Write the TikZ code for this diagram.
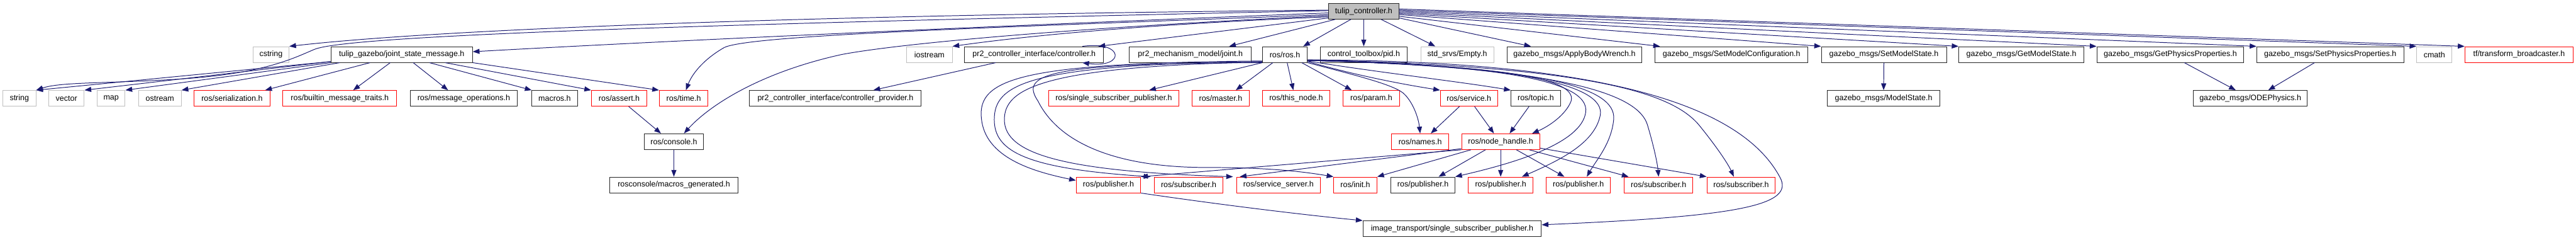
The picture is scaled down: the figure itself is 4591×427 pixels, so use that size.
\documentclass[tikz,border=0pt]{standalone}
\usepackage{fontspec}
\setmainfont{Liberation Sans}
\usepackage{tikz}
\usetikzlibrary{arrows.meta}
\definecolor{edgeblue}{HTML}{191970}
\definecolor{boxgrey}{HTML}{BFBFBF}

\begin{document}
\begin{tikzpicture}[
  x=1pt, y=1pt,
  font=\fontsize{14}{16}\selectfont,
  file/.style={draw, line width=1.1pt, fill=white, minimum height=28pt, inner sep=0pt},
  blkfile/.style={file, draw=black!85},
  redfile/.style={file, draw=red},
  greyfile/.style={file, draw=boxgrey},
  rootfile/.style={file, draw=black!85, fill=boxgrey},
  arrow/.style={-{Triangle[length=12pt,width=9pt]}, line width=1.1pt, draw=edgeblue}
]
  \useasboundingbox (0,0) rectangle (4591,-427);

  \node[rootfile, minimum width=125pt] (root) at (2430.5,-20) {tulip\_controller.h};

  \node[greyfile, minimum width=64pt] (cstring) at (483,-97) {cstring};
  \node[blkfile, minimum width=252pt] (jsm) at (716,-97) {tulip\_gazebo/joint\_state\_message.h};
  \node[greyfile, minimum width=81pt] (iostream) at (1656.5,-97) {iostream};
  \node[blkfile, minimum width=248pt] (ctrl) at (1843,-97) {pr2\_controller\_interface/controller.h};
  \node[blkfile, minimum width=217pt] (joint) at (2121.5,-97) {pr2\_mechanism\_model/joint.h};
  \node[blkfile, minimum width=80pt] (ros) at (2290,-97) {ros/ros.h};
  \node[blkfile, minimum width=155pt] (pid) at (2430.5,-97) {control\_toolbox/pid.h};
  \node[greyfile, minimum width=130pt] (empty) at (2597,-97) {std\_srvs/Empty.h};
  \node[blkfile, minimum width=240pt] (abw) at (2806,-97) {gazebo\_msgs/ApplyBodyWrench.h};
  \node[blkfile, minimum width=272pt] (smc) at (3086,-97) {gazebo\_msgs/SetModelConfiguration.h};
  \node[blkfile, minimum width=223pt] (sms) at (3357.5,-97) {gazebo\_msgs/SetModelState.h};
  \node[blkfile, minimum width=223pt] (gms) at (3602.5,-97) {gazebo\_msgs/GetModelState.h};
  \node[blkfile, minimum width=262pt] (gpp) at (3868,-97) {gazebo\_msgs/GetPhysicsProperties.h};
  \node[blkfile, minimum width=262pt] (spp) at (4153,-97) {gazebo\_msgs/SetPhysicsProperties.h};
  \node[greyfile, minimum width=63pt] (cmath) at (4338.5,-97) {cmath};
  \node[redfile, minimum width=193pt] (tfb) at (4489.5,-97) {tf/transform\_broadcaster.h};

  \node[greyfile, minimum width=59pt] (str) at (34.5,-175) {string};
  \node[greyfile, minimum width=63pt] (vec) at (118.5,-175) {vector};
  \node[greyfile, minimum width=50pt] (map) at (198,-175) {map};
  \node[greyfile, minimum width=76pt] (ostr) at (285,-175) {ostream};
  \node[redfile, minimum width=135pt] (ser) at (413.5,-175) {ros/serialization.h};
  \node[redfile, minimum width=203pt] (bmt) at (605.5,-175) {ros/builtin\_message\_traits.h};
  \node[blkfile, minimum width=191pt] (mop) at (826.5,-175) {ros/message\_operations.h};
  \node[blkfile, minimum width=81pt] (mac) at (988.5,-175) {macros.h};
  \node[redfile, minimum width=99pt] (asrt) at (1103.5,-175) {ros/assert.h};
  \node[redfile, minimum width=87pt] (time) at (1218.5,-175) {ros/time.h};
  \node[blkfile, minimum width=306pt] (prov) at (1489,-175) {pr2\_controller\_interface/controller\_provider.h};
  \node[redfile, minimum width=232pt] (ssp) at (1985,-175) {ros/single\_subscriber\_publisher.h};
  \node[redfile, minimum width=103pt] (master) at (2175.5,-175) {ros/master.h};
  \node[redfile, minimum width=120pt] (thisnode) at (2310,-175) {ros/this\_node.h};
  \node[redfile, minimum width=100pt] (param) at (2444,-175) {ros/param.h};
  \node[redfile, minimum width=102pt] (service) at (2618,-175) {ros/service.h};
  \node[blkfile, minimum width=88pt] (topic) at (2737,-175) {ros/topic.h};
  \node[blkfile, minimum width=200pt] (mstate) at (3357,-175) {gazebo\_msgs/ModelState.h};
  \node[blkfile, minimum width=203pt] (ode) at (4010.5,-175) {gazebo\_msgs/ODEPhysics.h};

  \node[blkfile, minimum width=106pt] (console) at (1201,-252) {ros/console.h};
  \node[redfile, minimum width=102pt] (names) at (2531,-252) {ros/names.h};
  \node[redfile, minimum width=139pt] (nh) at (2674.5,-252) {ros/node\_handle.h};

  \node[blkfile, minimum width=228pt] (macgen) at (1201,-329) {rosconsole/macros\_generated.h};
  \node[redfile, minimum width=115pt] (pub1) at (1975.5,-329) {ros/publisher.h};
  \node[redfile, minimum width=123pt] (sub1) at (2118.5,-329) {ros/subscriber.h};
  \node[redfile, minimum width=149pt] (srvsrv) at (2278.5,-329) {ros/service\_server.h};
  \node[redfile, minimum width=77pt] (init) at (2415.5,-329) {ros/init.h};
  \node[blkfile, minimum width=114pt] (pub2) at (2536,-329) {ros/publisher.h};
  \node[redfile, minimum width=115pt] (pub3) at (2674.5,-329) {ros/publisher.h};
  \node[redfile, minimum width=114pt] (pub4) at (2813,-329) {ros/publisher.h};
  \node[redfile, minimum width=122pt] (sub2) at (2956,-329) {ros/subscriber.h};
  \node[redfile, minimum width=122pt] (sub3) at (3103,-329) {ros/subscriber.h};

  \node[blkfile, minimum width=318pt] (itssp) at (2588,-407) {image\_transport/single\_subscriber\_publisher.h};

  \draw[arrow] ([yshift=2]root.west) .. controls (1500,-26) and (800,-50) .. (cstring.north east);
  \draw[arrow] ([yshift=1]root.west) .. controls (1300,-42) and (620,-62) .. (560,-88)
    .. controls (520,-105) and (470,-130) .. (330,-140) .. controls (200,-149) and (110,-145) .. (str.north east);
  \draw[arrow] ([yshift=-3]root.west) .. controls (1800,-45) and (1200,-72) .. ([yshift=5]jsm.east);
  \draw[arrow] ([yshift=-6]root.west) .. controls (1800,-48) and (1330,-62) .. (1290,-85)
    .. controls (1250,-108) and (1232,-135) .. ([xshift=4]time.north);
  \draw[arrow] ([yshift=-8]root.west) .. controls (1900,-50) and (1600,-78) .. (1500,-97)
    .. controls (1350,-130) and (1262,-190) .. ([xshift=18]console.north);
  \draw[arrow] ([yshift=-10]root.west) .. controls (2000,-45) and (1800,-68) .. (iostream.north east);
  \draw[arrow] ([yshift=-12]root.west) -- ([xshift=-10]ctrl.north east);
  \draw[arrow] ([xshift=12]root.south west) -- ([xshift=-40]joint.north east);
  \draw[arrow] ([xshift=40]root.south west) -- ([xshift=-8]ros.north east);
  \draw[arrow] (root.south) -- (pid.north);
  \draw[arrow] ([xshift=-32]root.south east) -- ([xshift=-39]empty.north);
  \draw[arrow] ([yshift=-12]root.east) -- ([xshift=43]abw.north west);
  \draw[arrow] ([yshift=-9]root.east) -- ([xshift=9]smc.north west);
  \draw[arrow] ([yshift=-6]root.east) -- (sms.north west);
  \draw[arrow] ([yshift=-4]root.east) -- (gms.north west);
  \draw[arrow] ([yshift=-2]root.east) -- (gpp.north west);
  \draw[arrow] (root.east) -- (spp.north west);
  \draw[arrow] ([yshift=2]root.east) -- (cmath.north west);
  \draw[arrow] ([yshift=4]root.east) -- (tfb.north west);

  \draw[arrow] ([yshift=2]jsm.south west) -- (str.north east);
  \draw[arrow] ([yshift=2]jsm.south west) -- (vec.north east);
  \draw[arrow] (jsm.south west) -- (map.north east);
  \draw[arrow] ([xshift=16]jsm.south west) -- (ostr.north east);
  \draw[arrow] ([xshift=70]jsm.south west) -- ([xshift=-9]ser.north east);
  \draw[arrow] ([xshift=106]jsm.south west) -- ([xshift=24]bmt.north);
  \draw[arrow] ([xshift=147]jsm.south west) -- ([xshift=-28]mop.north);
  \draw[arrow] ([xshift=176]jsm.south west) -- (mac.north west);
  \draw[arrow] ([xshift=204]jsm.south west) -- (asrt.north west);
  \draw[arrow] (jsm.south east) -- (time.north west);

  \draw[arrow] ([xshift=17]asrt.south) -- ([xshift=-23]console.north);
  \draw[arrow] (console.south) -- (macgen.north);
  \draw[arrow] ([xshift=56]ctrl.south west) -- ([xshift=-86]prov.north east);
  \draw[arrow] ([xshift=86]ctrl.north) .. controls (2005,-72) and (2005,-122) .. ([xshift=86]ctrl.south);

  \draw[arrow] (ros.south west) -- ([xshift=63]ssp.north);
  \draw[arrow] ([xshift=19]ros.south west) -- ([xshift=27]master.north);
  \draw[arrow] ([xshift=4]ros.south) -- ([xshift=-5]thisnode.north);
  \draw[arrow] ([xshift=30]ros.south) -- ([xshift=-35]param.north);
  \draw[arrow] (ros.south east) .. controls (2420,-135) and (2480,-150) .. (2500,-165)
    .. controls (2518,-180) and (2528,-210) .. (names.north);
  \draw[arrow] ([yshift=2]ros.south east) .. controls (2420,-135) and (2500,-150) .. (service.north west);
  \draw[arrow] ([yshift=3]ros.south east) .. controls (2450,-128) and (2600,-145) .. (topic.north west);
  \draw[arrow] ([yshift=4]ros.south east) .. controls (2600,-115) and (2815,-130) .. (2800,-180)
    .. controls (2790,-205) and (2760,-225) .. ([xshift=-14]nh.north east);
  \draw[arrow] ([yshift=4]ros.south east) .. controls (2650,-115) and (2835,-140) .. (2826,-200)
    .. controls (2818,-255) and (2700,-290) .. (pub2.north east);
  \draw[arrow] ([yshift=4]ros.south east) .. controls (2700,-115) and (2862,-150) .. (2852,-205)
    .. controls (2842,-255) and (2780,-285) .. ([xshift=38]pub3.north);
  \draw[arrow] ([yshift=4]ros.south east) .. controls (2750,-118) and (2880,-155) .. (2876,-212)
    .. controls (2872,-255) and (2845,-285) .. ([xshift=15]pub4.north);
  \draw[arrow] ([yshift=4]ros.south east) .. controls (2800,-120) and (2920,-170) .. (2936,-222)
    .. controls (2948,-262) and (2954,-292) .. (sub2.north);
  \draw[arrow] ([yshift=5]ros.south east) .. controls (2850,-118) and (2985,-168) .. (3030,-225)
    .. controls (3060,-262) and (3080,-292) .. ([xshift=-13]sub3.north);
  \draw[arrow] ([yshift=5]ros.south east) .. controls (2900,-108) and (3110,-200) .. (3172,-315)
    .. controls (3200,-365) and (3100,-385) .. ([yshift=7]itssp.east);
  \draw[arrow] ([yshift=3]ros.south west) .. controls (1820,-112) and (1742,-140) .. (1749,-210)
    .. controls (1755,-280) and (1840,-305) .. ([yshift=8]pub1.west);
  \draw[arrow] ([yshift=2]ros.south west) .. controls (1830,-115) and (1772,-150) .. (1772,-213)
    .. controls (1772,-270) and (1830,-300) .. ([xshift=-6]sub1.north west);
  \draw[arrow] ([yshift=1]ros.south west) .. controls (1850,-118) and (1790,-160) .. (1790,-213)
    .. controls (1790,-275) and (1900,-305) .. ([xshift=-6]srvsrv.north west);
  \draw[arrow] (ros.south west) .. controls (1850,-112) and (1820,-135) .. (1850,-180)
    .. controls (1890,-260) and (2000,-298) .. (2150,-298) .. controls (2260,-298) and (2320,-305) .. (init.north west);

  \draw[arrow] (nh.south west) -- (pub1.north east);
  \draw[arrow] ([yshift=2]nh.south west) -- ([xshift=6]srvsrv.north west);
  \draw[arrow] ([xshift=17]nh.south west) -- (init.north east);
  \draw[arrow] ([xshift=43]nh.south west) -- ([xshift=28]pub2.north);
  \draw[arrow] (nh.south) -- (pub3.north);
  \draw[arrow] ([xshift=28]nh.south) -- ([xshift=-25]pub4.north);
  \draw[arrow] ([xshift=-19]nh.south east) -- ([xshift=8]sub2.north west);
  \draw[arrow] ([yshift=3]nh.south east) -- (sub3.north west);

  \draw[arrow] ([xshift=-17]service.south) -- ([xshift=19]names.north);
  \draw[arrow] ([xshift=10]service.south) -- ([xshift=-12]nh.north);
  \draw[arrow] ([xshift=-12]topic.south) -- ([xshift=16]nh.north);
  \draw[arrow] (pub1.south east) .. controls (2200,-368) and (2350,-385) .. (itssp.north west);

  \draw[arrow] (sms.south) -- (mstate.north);
  \draw[arrow] ([xshift=25]gpp.south) -- ([xshift=-26]ode.north);
  \draw[arrow] ([xshift=-28]spp.south) -- ([xshift=32]ode.north);
\end{tikzpicture}
\end{document}
